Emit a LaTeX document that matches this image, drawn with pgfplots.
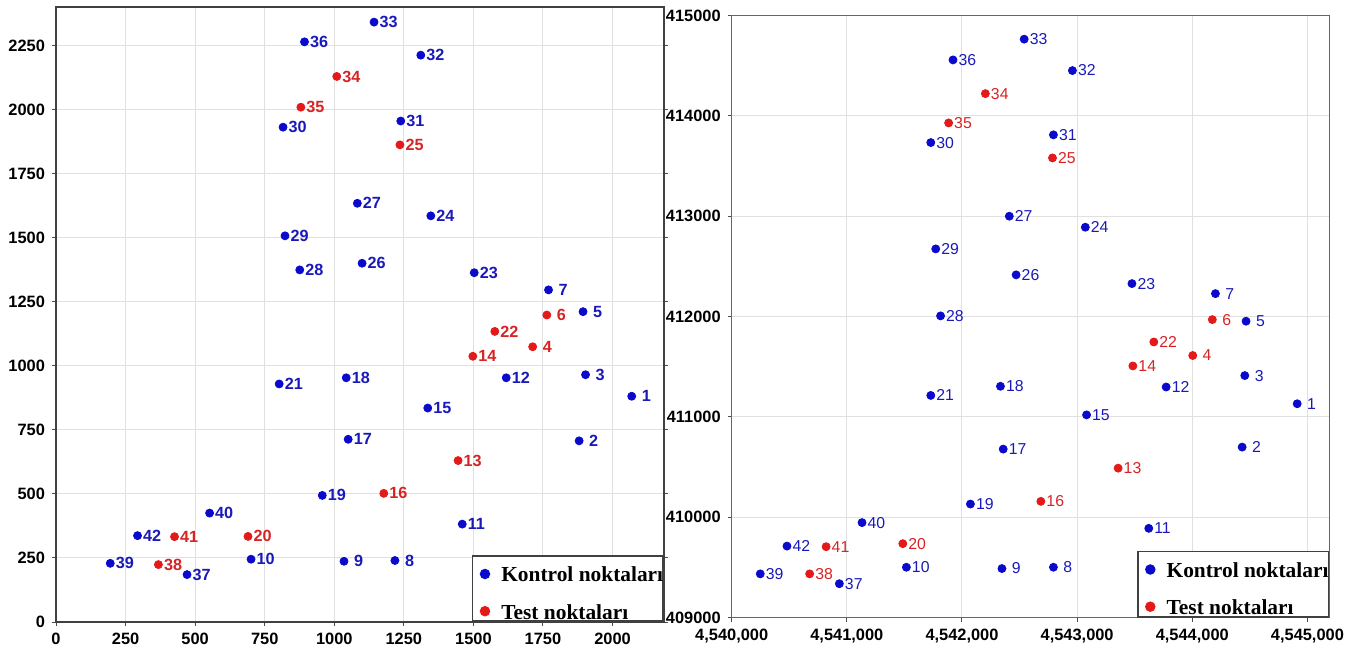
\documentclass[border=0pt]{standalone}
\usepackage{pgfplots}
\pgfplotsset{compat=1.18}
\usepackage{pgfplotstable}
\usepackage{fontspec}
\setmainfont{Liberation Sans}
\newfontfamily\legfont{Liberation Serif}
\definecolor{kblue}{RGB}{10,10,205}
\definecolor{kred}{RGB}{228,25,25}
\definecolor{kbluet}{RGB}{25,25,185}
\definecolor{kredt}{RGB}{215,35,35}

% Left panel: local coordinates
\pgfplotstableread{
x y label
2069 881 ~1
1880 707 ~2
1903 965 ~3
1894 1211 ~5
1770 1296 ~7
1218 240 ~8
1035 237 ~9
701 245 10
1460 382 11
1618 953 12
1336 835 15
1050 713 17
1043 953 18
957 494 19
802 929 21
1503 1363 23
1347 1585 24
1100 1400 26
1083 1634 27
876 1374 28
823 1507 29
816 1931 30
1239 1955 31
1311 2212 32
1143 2341 33
893 2264 36
471 185 37
195 229 39
552 425 40
293 337 42
}\leftK
\pgfplotstableread{
x y label
1713 1074 ~4
1764 1198 ~6
1445 630 13
1498 1037 14
1178 502 16
690 334 20
1577 1134 22
1236 1862 25
1009 2129 34
880 2009 35
368 224 38
426 333 41
}\leftT
% Right panel: projected coordinates
\pgfplotstableread{
x y label
4544911 411131 ~1
4544433 410699 ~2
4544456 411412 ~3
4544467 411954 ~5
4544201 412229 ~7
4542794 409501 ~8
4542347 409488 ~9
4541517 409501 10
4543622 409889 11
4543773 411298 12
4543082 411020 15
4542358 410679 17
4542334 411305 18
4542073 410131 19
4541729 411214 21
4543476 412329 23
4543071 412891 24
4542470 412416 26
4542411 413001 27
4541814 412007 28
4541772 412675 29
4541729 413735 30
4542794 413812 31
4542959 414453 32
4542540 414766 33
4541922 414559 36
4540935 409337 37
4540248 409435 39
4541132 409946 40
4540480 409712 42
}\rightK
\pgfplotstableread{
x y label
4544004 411612 ~4
4544174 411970 ~6
4543356 410489 13
4543484 411508 14
4542685 410158 16
4541486 409736 20
4543666 411747 22
4542786 413582 25
4542203 414223 34
4541884 413931 35
4540677 409435 38
4540820 409706 41
}\rightT

\pgfplotsset{
  common/.style={
    scale only axis, anchor=south west,
    grid=major, major grid style={black!12, line width=0.5pt},
    tick align=outside, tick pos=left, major tick length=2pt,
    tick style={black!70, line width=0.5pt},
    ticklabel style={font=\bfseries\fontsize{8.2}{9}\selectfont},
    /pgf/number format/assume math mode=true,
    scaled ticks=false,
    legend style={at={(1,0)}, anchor=south east, draw=black!75, line width=0.8pt,
      font=\legfont\bfseries\fontsize{10.7}{12}\selectfont,
      inner xsep=0pt, inner ysep=0.52pt, row sep=5.64pt,
      nodes={inner xsep=0pt, inner ysep=0.5pt, text depth=0pt, text height=11.96pt},
      /tikz/every odd column/.append style={column sep=5.55pt}},
    legend cell align=left,
  },
  kpts/.style={only marks, mark=*, mark size=2pt, color=kblue,
    mark options={draw=kblue, fill=kblue},
    point meta=explicit symbolic, nodes near coords,
    nodes near coords style={anchor=west, xshift=2.3pt, inner sep=0.3pt, text=kbluet, font=#1},
    legend image code/.code={\path[draw=none,fill=none] (0pt,-0.5pt) rectangle (6.25pt,0.5pt); \fill[kblue] (6.25pt,-2pt) circle (2.2pt);}},
  tpts/.style={only marks, mark=*, mark size=2pt, color=kred,
    mark options={draw=kred, fill=kred},
    point meta=explicit symbolic, nodes near coords,
    nodes near coords style={anchor=west, xshift=2.3pt, inner sep=0.3pt, text=kredt, font=#1},
    legend image code/.code={\path[draw=none,fill=none] (0pt,-0.5pt) rectangle (6.25pt,0.5pt); \fill[kred] (6.25pt,-2pt) circle (2.2pt);}},
}

\begin{document}
\begin{tikzpicture}
\useasboundingbox (0pt,0pt) rectangle (678pt,-326pt);
\begin{axis}[common,
  at={(28pt,-311pt)}, width=304pt, height=307.5pt,
  xmin=0, xmax=2185, ymin=0, ymax=2400,
  xtick={0,250,...,2000}, ytick={0,250,...,2250},
  ytick pos=both, xtick pos=left,
  /pgf/number format/1000 sep={},
  axis line style={black!75, line width=0.75pt},
]
\addplot[kpts={\bfseries\fontsize{8.1}{9}\selectfont}] table[meta=label]{\leftK};
\addlegendentry{Kontrol noktaları}
\addplot[tpts={\bfseries\fontsize{8.1}{9}\selectfont}] table[meta=label]{\leftT};
\addlegendentry{Test noktaları}
\end{axis}
\begin{axis}[common,
  at={(365.85pt,-308.75pt)}, width=298.8pt, height=300.9pt,
  xmin=4540000, xmax=4545190, ymin=409000, ymax=415000,
  xtick={4540000,4541000,4542000,4543000,4544000,4545000},
  ytick={409000,410000,411000,412000,413000,414000,415000},
  xticklabel style={/pgf/number format/fixed, /pgf/number format/precision=0, /pgf/number format/1000 sep={,}},
  yticklabel style={/pgf/number format/fixed, /pgf/number format/precision=0, /pgf/number format/1000 sep={}},
  axis line style={black!60, line width=0.75pt},
]
\addplot[kpts={\fontsize{7.9}{9}\selectfont}] table[meta=label]{\rightK};
\addlegendentry{Kontrol noktaları}
\addplot[tpts={\fontsize{7.9}{9}\selectfont}] table[meta=label]{\rightT};
\addlegendentry{Test noktaları}
\end{axis}
\end{tikzpicture}
\end{document}
